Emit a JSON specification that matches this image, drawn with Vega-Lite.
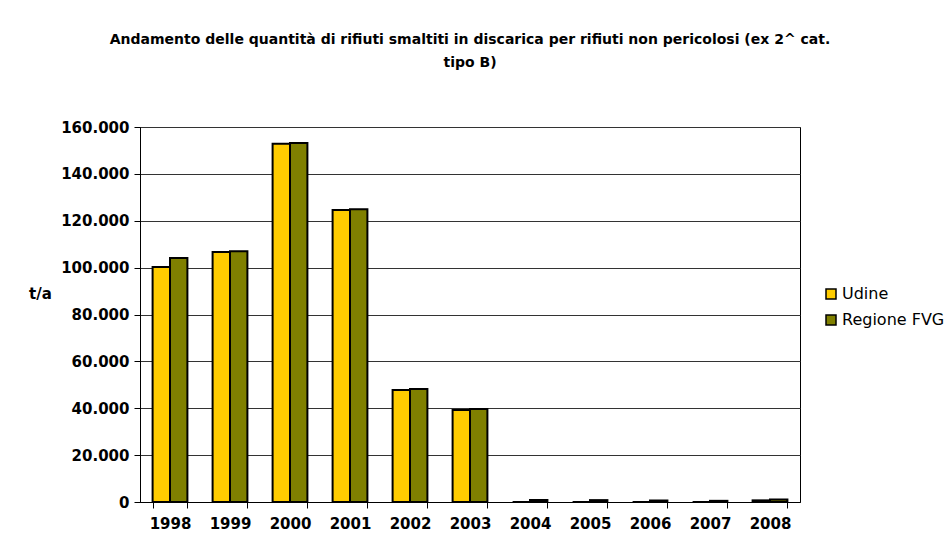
{
  "$schema": "https://vega.github.io/schema/vega-lite/v6.json",
  "autosize": "none",
  "width": 660,
  "height": 375,
  "padding": {"left": 140, "top": 127, "right": 148, "bottom": 52},
  "background": "white",
  "title": {
    "text": ["Andamento delle quantità di rifiuti smaltiti in discarica per rifiuti non pericolosi (ex 2^ cat.", "tipo B)"],
    "font": "DejaVu Sans",
    "fontSize": 14,
    "fontWeight": "bold",
    "color": "black",
    "lineHeight": 23,
    "anchor": "middle",
    "offset": 50
  },
  "data": {
    "values": [
      {"anno": "1998", "serie": "Udine", "t": 100300},
      {"anno": "1998", "serie": "Regione FVG", "t": 104100},
      {"anno": "1999", "serie": "Udine", "t": 106700},
      {"anno": "1999", "serie": "Regione FVG", "t": 107000},
      {"anno": "2000", "serie": "Udine", "t": 152900},
      {"anno": "2000", "serie": "Regione FVG", "t": 153200},
      {"anno": "2001", "serie": "Udine", "t": 124600},
      {"anno": "2001", "serie": "Regione FVG", "t": 124900},
      {"anno": "2002", "serie": "Udine", "t": 47800},
      {"anno": "2002", "serie": "Regione FVG", "t": 48200},
      {"anno": "2003", "serie": "Udine", "t": 39300},
      {"anno": "2003", "serie": "Regione FVG", "t": 39700},
      {"anno": "2004", "serie": "Udine", "t": 0},
      {"anno": "2004", "serie": "Regione FVG", "t": 900},
      {"anno": "2005", "serie": "Udine", "t": 0},
      {"anno": "2005", "serie": "Regione FVG", "t": 800},
      {"anno": "2006", "serie": "Udine", "t": 0},
      {"anno": "2006", "serie": "Regione FVG", "t": 600},
      {"anno": "2007", "serie": "Udine", "t": 0},
      {"anno": "2007", "serie": "Regione FVG", "t": 500},
      {"anno": "2008", "serie": "Udine", "t": 700},
      {"anno": "2008", "serie": "Regione FVG", "t": 1100}
    ]
  },
  "mark": {"type": "bar", "stroke": "black", "strokeWidth": 2},
  "encoding": {
    "x": {
      "field": "anno",
      "type": "nominal",
      "scale": {"paddingInner": 0.42, "paddingOuter": 0.21},
      "axis": {
        "title": null,
        "labelAngle": 0,
        "tickBand": "extent",
        "tickSize": 6,
        "labelPadding": 8,
        "grid": false
      }
    },
    "xOffset": {
      "field": "serie",
      "type": "nominal",
      "sort": ["Udine", "Regione FVG"],
      "scale": {"paddingInner": 0, "paddingOuter": 0}
    },
    "y": {
      "field": "t",
      "type": "quantitative",
      "scale": {"domain": [0, 160000], "nice": false},
      "axis": {
        "title": "t/a",
        "titleAngle": 0,
        "titleAlign": "center",
        "titleBaseline": "middle",
        "titleX": -100,
        "titleY": 166,
        "values": [0, 20000, 40000, 60000, 80000, 100000, 120000, 140000, 160000],
        "format": ",d",
        "tickSize": 6,
        "labelPadding": 5,
        "grid": true
      }
    },
    "color": {
      "field": "serie",
      "type": "nominal",
      "sort": ["Udine", "Regione FVG"],
      "scale": {"domain": ["Udine", "Regione FVG"], "range": ["#FFCC00", "#808000"]},
      "legend": {
        "title": null,
        "orient": "none",
        "legendX": 683,
        "legendY": 159,
        "symbolType": "square",
        "symbolSize": 100,
        "symbolStrokeColor": "black",
        "symbolStrokeWidth": 1.5,
        "symbolOpacity": 1,
        "labelFont": "DejaVu Sans",
        "labelFontSize": 16,
        "labelColor": "black",
        "labelOffset": 3,
        "rowPadding": 10,
        "padding": 0
      }
    }
  },
  "config": {
    "locale": {
      "number": {"decimal": ",", "thousands": ".", "grouping": [3], "currency": ["€", ""]}
    },
    "view": {"stroke": "black", "strokeWidth": 1},
    "axis": {
      "labelFont": "DejaVu Sans",
      "labelFontSize": 15,
      "labelFontWeight": "bold",
      "labelColor": "black",
      "titleFont": "DejaVu Sans",
      "titleFontSize": 15,
      "titleFontWeight": "bold",
      "titleColor": "black",
      "domainColor": "black",
      "domainWidth": 1,
      "tickColor": "black",
      "tickWidth": 1,
      "gridColor": "#333333",
      "gridWidth": 1,
      "gridOpacity": 1
    }
  }
}
